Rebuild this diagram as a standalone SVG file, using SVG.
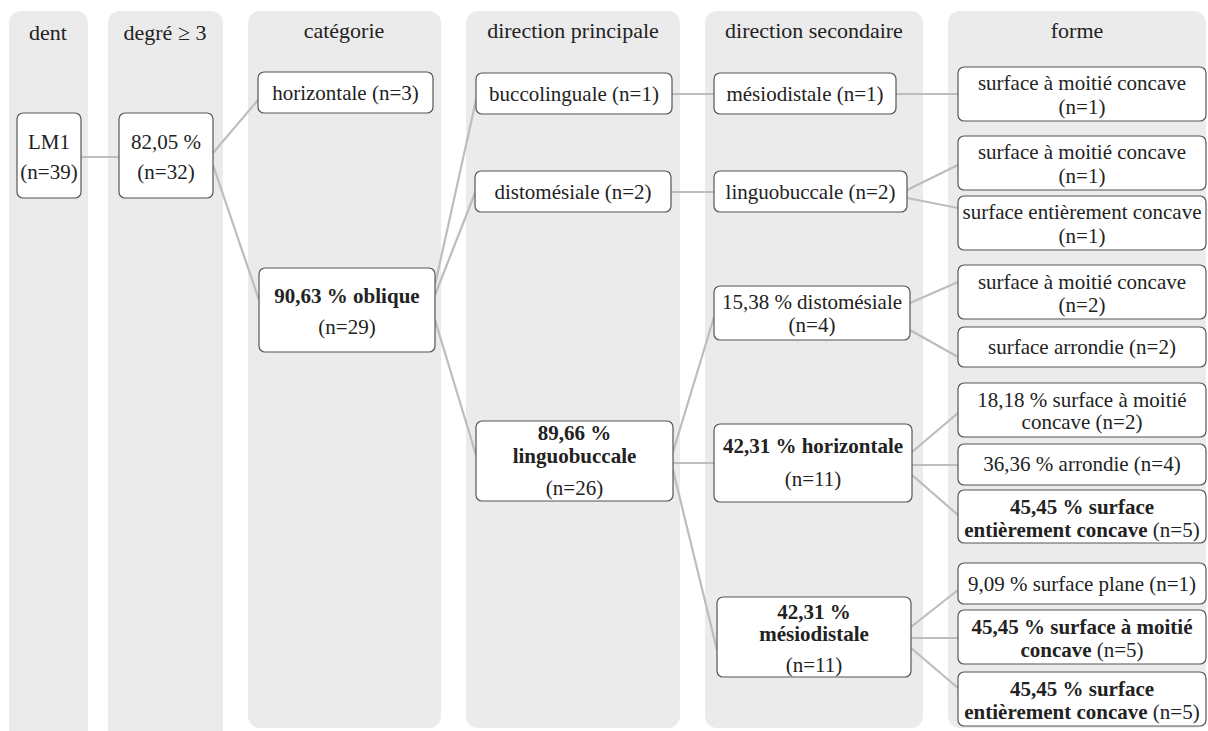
<svg xmlns="http://www.w3.org/2000/svg" width="1208" height="731" viewBox="0 0 1208 731" font-family="Liberation Serif, Times New Roman, serif">
<style>
.col{fill:#ebebeb}
.hd{font-size:22px;fill:#222;text-anchor:middle}
.nd rect{fill:#fff;stroke:#555;stroke-width:1.2}
.nd text{font-size:21px;fill:#222;text-anchor:middle}
.b{font-weight:bold}
.cn line{stroke:#bdbdbd;stroke-width:2.2}
</style>
<rect width="1208" height="731" fill="#fff"/>
<g id="columns">
<rect class="col" x="9" y="11" width="79" height="740" rx="12"/>
<rect class="col" x="108" y="11" width="115" height="740" rx="12"/>
<rect class="col" x="248" y="11" width="193" height="717" rx="12"/>
<rect class="col" x="466" y="11" width="214" height="717" rx="12"/>
<rect class="col" x="705" y="11" width="218" height="717" rx="12"/>
<rect class="col" x="948" y="11" width="258" height="717" rx="12"/>
<text class="hd" x="48" y="40">dent</text>
<text class="hd" x="165" y="40">degré ≥ 3</text>
<text class="hd" x="344" y="38">catégorie</text>
<text class="hd" x="573" y="38">direction principale</text>
<text class="hd" x="814" y="38">direction secondaire</text>
<text class="hd" x="1077" y="38">forme</text>
</g>
<g id="connectors" class="cn">
<line x1="81" y1="157" x2="119" y2="157"/>
<line x1="213" y1="153" x2="258" y2="100"/>
<line x1="213" y1="165" x2="259" y2="300"/>
<line x1="435" y1="285" x2="476" y2="100"/>
<line x1="435" y1="295" x2="475" y2="193"/>
<line x1="435" y1="320" x2="476" y2="455"/>
<line x1="672" y1="94" x2="714" y2="94"/>
<line x1="671" y1="192" x2="714" y2="192"/>
<line x1="673" y1="452" x2="714" y2="317"/>
<line x1="673" y1="463" x2="714" y2="463"/>
<line x1="673" y1="470" x2="717" y2="650"/>
<line x1="896" y1="94" x2="958" y2="94"/>
<line x1="907" y1="190" x2="958" y2="165"/>
<line x1="907" y1="198" x2="958" y2="208"/>
<line x1="910" y1="303" x2="958" y2="282"/>
<line x1="910" y1="330" x2="958" y2="357"/>
<line x1="912" y1="452" x2="958" y2="413"/>
<line x1="912" y1="465" x2="958" y2="465"/>
<line x1="912" y1="475" x2="958" y2="515"/>
<line x1="911" y1="627" x2="958" y2="590"/>
<line x1="911" y1="638" x2="958" y2="638"/>
<line x1="911" y1="648" x2="958" y2="688"/>
</g>
<g id="n-lm1" class="nd"><rect x="17" y="113" width="64" height="85" rx="6"/><text x="49" y="149">LM1</text><text x="49" y="179">(n=39)</text></g>
<g id="n-deg" class="nd"><rect x="119" y="113" width="94" height="85" rx="6"/><text x="166" y="149">82,05 %</text><text x="166" y="179">(n=32)</text></g>
<g id="n-cat-h" class="nd"><rect x="258" y="72" width="175" height="41" rx="6"/><text x="345.5" y="100">horizontale (n=3)</text></g>
<g id="n-cat-o" class="nd"><rect x="259" y="268" width="176" height="84" rx="6"/><text class="b" x="347" y="303">90,63 % oblique</text><text x="347" y="334">(n=29)</text></g>
<g id="n-dp-bl" class="nd"><rect x="476" y="73" width="196" height="41" rx="6"/><text x="574" y="101">buccolinguale (n=1)</text></g>
<g id="n-dp-dm" class="nd"><rect x="475" y="171" width="196" height="41" rx="6"/><text x="573" y="199">distomésiale (n=2)</text></g>
<g id="n-dp-lb" class="nd"><rect x="476" y="421" width="197" height="80" rx="6"/><text class="b" x="574.5" y="440">89,66 %</text><text class="b" x="574.5" y="463">linguobuccale</text><text x="574.5" y="495">(n=26)</text></g>
<g id="n-ds-md1" class="nd"><rect x="714" y="73" width="182" height="41" rx="6"/><text x="805" y="101">mésiodistale (n=1)</text></g>
<g id="n-ds-lb" class="nd"><rect x="714" y="171" width="193" height="41" rx="6"/><text x="810.5" y="199">linguobuccale (n=2)</text></g>
<g id="n-ds-dm" class="nd"><rect x="714" y="286" width="196" height="54" rx="6"/><text x="812" y="309">15,38 % distomésiale</text><text x="812" y="332">(n=4)</text></g>
<g id="n-ds-h" class="nd"><rect x="714" y="424" width="198" height="78" rx="6"/><text class="b" x="813" y="453">42,31 % horizontale</text><text x="813" y="486">(n=11)</text></g>
<g id="n-ds-md" class="nd"><rect x="717" y="597" width="194" height="80" rx="6"/><text class="b" x="814" y="619">42,31 %</text><text class="b" x="814" y="641">mésiodistale</text><text x="814" y="672">(n=11)</text></g>
<g id="n-f1" class="nd"><rect x="958" y="67" width="248" height="54" rx="6"/><text x="1082" y="90">surface à moitié concave</text><text x="1082" y="114">(n=1)</text></g>
<g id="n-f2" class="nd"><rect x="958" y="136" width="248" height="54" rx="6"/><text x="1082" y="159">surface à moitié concave</text><text x="1082" y="183">(n=1)</text></g>
<g id="n-f3" class="nd"><rect x="958" y="196" width="248" height="54" rx="6"/><text x="1082" y="219">surface entièrement concave</text><text x="1082" y="243">(n=1)</text></g>
<g id="n-f4" class="nd"><rect x="958" y="265" width="248" height="54" rx="6"/><text x="1082" y="289">surface à moitié concave</text><text x="1082" y="312">(n=2)</text></g>
<g id="n-f5" class="nd"><rect x="958" y="327" width="248" height="40" rx="6"/><text x="1082" y="354">surface arrondie (n=2)</text></g>
<g id="n-f6" class="nd"><rect x="958" y="383" width="248" height="54" rx="6"/><text x="1082" y="407">18,18 % surface à moitié</text><text x="1082" y="429">concave (n=2)</text></g>
<g id="n-f7" class="nd"><rect x="958" y="444" width="248" height="41" rx="6"/><text x="1082" y="471">36,36 % arrondie (n=4)</text></g>
<g id="n-f8" class="nd"><rect x="958" y="490" width="248" height="53" rx="6"/><text class="b" x="1082" y="514">45,45 % surface</text><text x="1082" y="537"><tspan class="b">entièrement concave</tspan> (n=5)</text></g>
<g id="n-f9" class="nd"><rect x="958" y="563" width="248" height="41" rx="6"/><text x="1082" y="591">9,09 % surface plane (n=1)</text></g>
<g id="n-f10" class="nd"><rect x="958" y="610" width="248" height="54" rx="6"/><text class="b" x="1082" y="634">45,45 % surface à moitié</text><text x="1082" y="657"><tspan class="b">concave</tspan> (n=5)</text></g>
<g id="n-f11" class="nd"><rect x="958" y="672" width="248" height="54" rx="6"/><text class="b" x="1082" y="696">45,45 % surface</text><text x="1082" y="719"><tspan class="b">entièrement concave</tspan> (n=5)</text></g>
</svg>
